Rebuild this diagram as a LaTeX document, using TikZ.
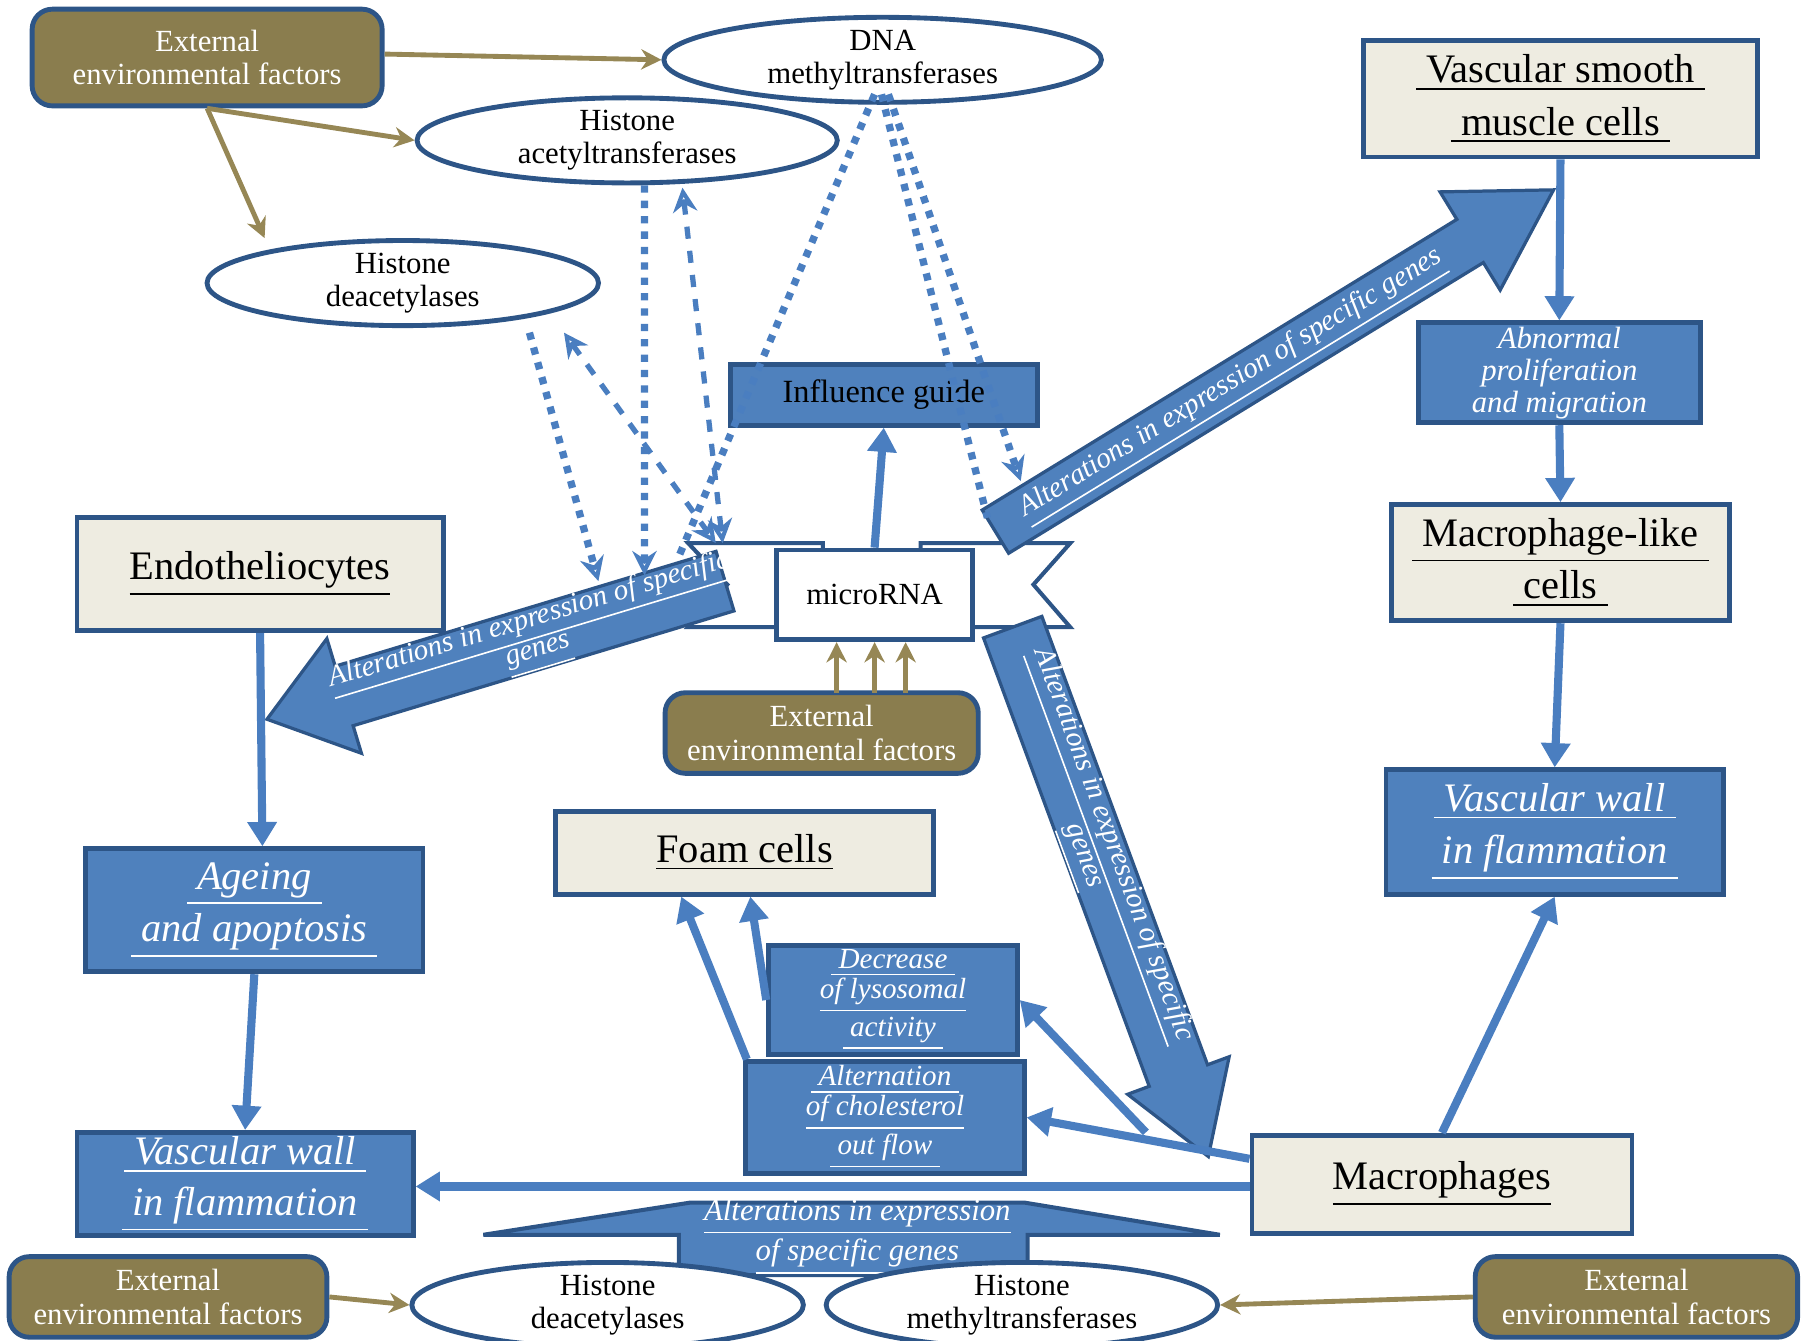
\documentclass[tikz,border=0pt]{standalone}
\usepackage{fontspec}
\setmainfont{Liberation Serif}
\usetikzlibrary{calc,arrows.meta,shapes.geometric}
\definecolor{olive}{RGB}{138,125,78}
\definecolor{oarr}{RGB}{150,135,85}
\definecolor{bfill}{RGB}{79,129,189}
\definecolor{bdark}{RGB}{45,85,135}
\definecolor{larr}{RGB}{74,126,192}
\definecolor{beige}{RGB}{238,236,225}
\newcommand\ul[1]{\underline{#1}}
\newcommand\bigarr[6]{%
 \coordinate (s) at (#1); \coordinate (e) at (#2);
 \coordinate (h) at ($(e)!#5!(s)$);
 \filldraw[fill=bfill,draw=bdark,line width=0.8pt]
  ($(s)!#3!90:(e)$) -- ($(h)!#3!-90:(s)$) -- ($(h)!#4!-90:(s)$) -- (e) --
  ($(h)!#4!90:(s)$) -- ($(h)!#3!90:(s)$) -- ($(s)!#3!-90:(e)$) -- cycle;
 \path (s) -- (h) node[midway,sloped,align=center,inner sep=0pt,text=white,font=\fontsize{7.2}{7.6}\selectfont\itshape] {#6};}
\begin{document}
\begin{tikzpicture}[x=0.01cm,y=-0.01cm,
 sm/.style={font=\fontsize{7.6}{8.2}\selectfont,align=center},
 lg/.style={font=\fontsize{10}{13}\selectfont,align=center},
 obox/.style={sm,rounded corners=5pt,fill=olive,draw=bdark,line width=1.2pt,text=white,inner sep=1pt},
 ell/.style={sm,ellipse,draw=bdark,fill=white,line width=1.2pt,inner sep=0pt},
 gbox/.style={lg,draw=bdark,fill=beige,line width=1.2pt},
 bbox/.style={draw=bdark,fill=bfill,line width=1.2pt,text=white},
 ibx/.style={bbox,align=center,inner sep=1pt,font=\fontsize{7.2}{7.4}\selectfont\itshape},
 tarr/.style={draw=larr,line width=2pt,-{Triangle[length=6pt,width=7pt]}},
 oa/.style={draw=oarr,line width=1.2pt,-{Stealth[length=5pt,width=5pt]}},
 dt/.style={draw=larr,line width=1.8pt,dotted},
 ds/.style={draw=larr,line width=1.3pt,dashed},
 ah/.style={-{Stealth[open,length=6pt,width=6pt]}}]
\useasboundingbox (0,0) rectangle (1565,1165);
% ribbons
\filldraw[fill=white,draw=bdark,line width=1pt] (598,472)--(715,472)--(715,485)--(675,485)--(675,545)--(598,545)--(632,508)--cycle;
\filldraw[fill=white,draw=bdark,line width=1pt] (800,472)--(930,472)--(898,508)--(930,545)--(845,545)--(845,485)--(800,485)--cycle;
% nodes
\node[obox,minimum width=3.04cm,minimum height=0.84cm] (ext1) at (180,50) {External\\environmental factors};
\node[ell,minimum width=3.8cm,minimum height=0.5cm] (dna) at (767,52) {DNA\\methyltransferases};
\node[ell,minimum width=3.65cm,minimum height=0.7cm] (hat) at (545,122) {Histone\\acetyltransferases};
\node[ell,minimum width=3.4cm,minimum height=0.72cm] (hdac) at (350,246) {Histone\\deacetylases};
\node[gbox,minimum width=3.42cm,minimum height=0.98cm] (vsmc) at (1356,86) {\ul{\ Vascular smooth\ }\\\ul{\ muscle cells\ }};
\node[ibx,font=\fontsize{7.6}{7.9}\selectfont\itshape,minimum width=2.45cm,minimum height=0.8cm] (abn) at (1355,324) {Abnormal\\proliferation\\and migration};
\node[gbox,minimum width=2.93cm,minimum height=0.98cm] (mlc) at (1356,489) {\ul{\ Macrophage-like\ }\\\ul{\ cells\ }};
\node[bbox,lg,font=\fontsize{10}{13}\selectfont\itshape,minimum width=2.93cm,minimum height=0.97cm] (vwir) at (1351,723) {\ul{\ Vascular wall\ }\\\ul{\ in flammation\ }};
\node[bbox,sm,text=black,font=\fontsize{8}{9}\selectfont,minimum width=2.67cm,minimum height=0.53cm] (infl) at (768,343) {Influence guide};
\node[draw=bdark,fill=white,line width=1.2pt,sm,minimum width=1.7cm,minimum height=0.78cm] (mirna) at (760,517) {microRNA};
\node[gbox,minimum width=3.18cm,minimum height=0.98cm] (endo) at (226,499) {\ul{Endotheliocytes}};
\node[bbox,lg,font=\fontsize{10}{13}\selectfont\itshape,minimum width=2.93cm,minimum height=0.98cm] (age) at (221,791) {\ul{\ Ageing\ }\\\ul{\ and apoptosis\ }};
\node[bbox,lg,font=\fontsize{10}{12.5}\selectfont\itshape,inner sep=1pt,minimum width=2.92cm,minimum height=0.86cm] (vwil) at (213,1029) {\ul{\ Vascular wall\ }\\\ul{\ in flammation\ }};
\node[gbox,minimum width=3.28cm,minimum height=0.72cm] (foam) at (647,741) {\ul{Foam cells}};
\node[ibx,minimum width=2.16cm,minimum height=0.85cm] (dec) at (776,869) {\ul{\ Decrease\ }\\\ul{of lysosomal}\\\ul{\ activity\ }};
\node[ibx,minimum width=2.42cm,minimum height=0.81cm] (alt) at (769,971) {\ul{\ Alternation\ }\\\ul{of cholesterol}\\\ul{\ out flow\ }};
\node[gbox,minimum width=3.3cm,minimum height=0.85cm] (mac) at (1253,1029) {\ul{Macrophages}};
\node[obox,minimum width=2.72cm,minimum height=0.7cm] (ext2) at (714,637) {External\\environmental factors};
\node[obox,minimum width=2.76cm,minimum height=0.7cm] (ext3) at (146,1127) {External\\environmental factors};
\node[obox,minimum width=2.8cm,minimum height=0.7cm] (ext4) at (1422,1127) {External\\environmental factors};
% bottom arrow shape
\filldraw[fill=bfill,draw=bdark,line width=1pt] (420,1073)--(600,1045)--(890,1045)--(1060,1073)--(893,1073)--(893,1108)--(590,1108)--(590,1073)--cycle;
\node[align=center,text=white,font=\fontsize{7.6}{7.8}\selectfont\itshape] (bt) at (745,1075) {\ul{Alterations in expression}\\\ul{of specific genes}};
\node[ell,minimum width=3.4cm,minimum height=0.5cm] (hdac2) at (528,1134) {Histone\\deacetylases};
\node[ell,minimum width=3.4cm,minimum height=0.5cm] (hmt) at (888,1134) {Histone\\methyltransferases};
% big arrows
\bigarr{865,462}{1350,165}{0.22cm}{0.5cm}{0.85cm}{\ul{Alterations in expression of specific genes}}
\bigarr{630,505}{232,625}{0.27cm}{0.52cm}{0.7cm}{\ul{Alterations in expression of specific}\\\ul{genes}}
\bigarr{880,545}{1050,1005}{0.27cm}{0.47cm}{0.75cm}{\ul{Alterations in expression of specific}\\\ul{genes}}
% thin blue arrows
\draw[tarr] (vsmc.south) -- (abn.north);
\draw[tarr] (abn.south) -- (mlc.north);
\draw[tarr] (mlc.south) -- (vwir.north);
\draw[tarr] (mac.north) -- (vwir.south);
\draw[tarr] (mirna.north) -- (infl.south);
\draw[tarr] (endo.south) -- ([xshift=2pt]age.north);
\draw[tarr] (age.south) -- (vwil.north);
\draw[tarr] ([yshift=-0.02cm]mac.west) -- ([yshift=-0.02cm]vwil.east);
\draw[tarr] ([yshift=0.22cm]mac.west) -- (alt.east);
\draw[tarr] ([yshift=0.45cm,xshift=-0.9cm]mac.west) -- (dec.east);
\draw[tarr] ([xshift=-1.2cm]alt.north) -- ([xshift=-0.55cm]foam.south);
\draw[tarr] (dec.west) -- ([xshift=0.05cm]foam.south);
% olive arrows
\draw[oa] ([yshift=0.03cm]ext1.east) -- (dna.west);
\draw[oa] (ext1.south) -- (hat.west);
\draw[oa] (ext1.south) -- ([xshift=-1.2cm]hdac.north);
\foreach \x in {727,760,787} \draw[oa] (\x,602) -- (\x,558);
\draw[oa] (ext3.east) -- (hdac2.west);
\draw[oa] (ext4.west) -- (hmt.east);
% dotted / dashed
\coordinate (d1) at (760,82); \coordinate (d2) at (766,82); \coordinate (d3) at (772,82);
\draw[dt] (d1) -- (588,488);
\draw[dt] (d2) -- (858,450);
\draw[dt,ah] (d3) -- (887,418);
\draw[dt,ah] ([xshift=0.15cm]hat.south) -- (560,500);
\draw[ds,{Stealth[open,length=6pt,width=6pt]}-{Stealth[open,length=6pt,width=6pt]}] ([xshift=0.48cm,yshift=-0.02cm]hat.south) -- (628,472);
\draw[dt,ah] ([xshift=1.1cm,yshift=-0.04cm]hdac.south) -- (520,505);
\draw[ds,{Stealth[open,length=6pt,width=6pt]}-{Stealth[open,length=6pt,width=6pt]}] ([xshift=1.4cm,yshift=-0.04cm]hdac.south) -- (622,472);
\end{tikzpicture}
\end{document}
